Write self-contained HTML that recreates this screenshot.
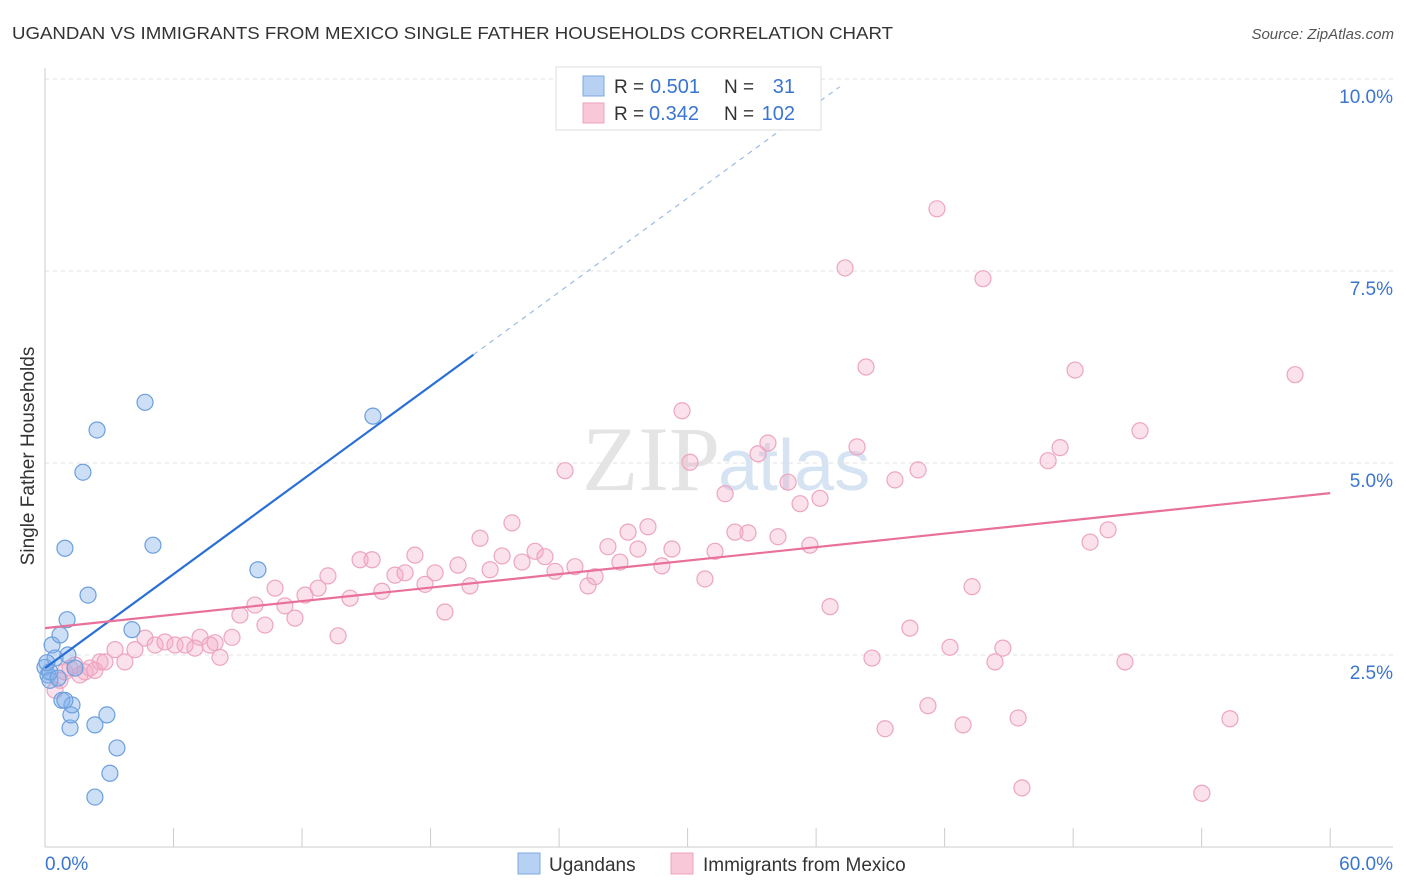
<!DOCTYPE html>
<html><head><meta charset="utf-8"><style>
body{margin:0;background:#fff;font-family:"Liberation Sans",sans-serif;}
svg{display:block}
</style></head><body>
<svg id="chart" width="1406" height="892" xmlns="http://www.w3.org/2000/svg">
<text x="12" y="39" font-size="17.5" fill="#333" textLength="881" lengthAdjust="spacingAndGlyphs">UGANDAN VS IMMIGRANTS FROM MEXICO SINGLE FATHER HOUSEHOLDS CORRELATION CHART</text>
<text x="1394" y="39" font-size="15" fill="#555" font-style="italic" text-anchor="end">Source: ZipAtlas.com</text>
<text x="720" y="490" font-size="92" fill="#e4e4e4" text-anchor="end" font-family="Liberation Serif,serif">ZIP</text>
<text x="718" y="490" font-size="72" fill="#d6e3f3">atlas</text>
<text transform="translate(34,456) rotate(-90)" font-size="19" fill="#333" text-anchor="middle">Single Father Households</text>
<g id="grid"></g><g id="axes"></g><g id="pink"></g><g id="blue"></g><g id="lines"></g>
<g>
<rect x="556" y="67" width="265" height="63" fill="#fff" stroke="#ddd"/>
<rect x="583" y="76" width="21" height="20" fill="#b7d1f2" stroke="#7fa8e0"/>
<rect x="583" y="103" width="21" height="20" fill="#f8c8d8" stroke="#eda5bf"/>
<text x="614" y="93" font-size="19" fill="#333">R =</text>
<text x="650" y="93" font-size="20" fill="#3a75d0">0.501</text>
<text x="724" y="93" font-size="19" fill="#333">N =</text>
<text x="795" y="93" font-size="20" fill="#3a75d0" text-anchor="end">31</text>
<text x="614" y="120" font-size="19" fill="#333">R =</text>
<text x="649" y="120" font-size="20" fill="#3a75d0">0.342</text>
<text x="724" y="120" font-size="19" fill="#333">N =</text>
<text x="795" y="120" font-size="20" fill="#3a75d0" text-anchor="end">102</text>
</g>
<g>
<rect x="518" y="853" width="22" height="21" fill="#b7d1f2" stroke="#7fa8e0"/>
<text x="549" y="871" font-size="19" fill="#333">Ugandans</text>
<rect x="671" y="853" width="22" height="21" fill="#f8c8d8" stroke="#eda5bf"/>
<text x="703" y="871" font-size="19" fill="#333">Immigrants from Mexico</text>
</g>
</svg>
<script>
const blueX=[0,0.14,0.23,0.33,0.47,0.70,0.79,0.93,1.03,1.07,1.17,1.21,1.26,1.40,1.77,2.01,2.43,2.33,2.33,2.89,3.03,3.36,4.06,4.67,5.04,9.94,15.31,0.23,0.61,0.93,0.09];
const blueY=[2.34,2.24,2.17,2.63,2.46,2.76,1.91,3.89,2.96,2.50,1.55,1.72,1.85,2.33,4.88,3.28,5.43,0.65,1.59,1.72,0.96,1.29,2.83,5.79,3.93,3.61,5.61,2.28,2.20,1.91,2.40];
const pinkX=[0.47,0.70,0.93,1.17,1.40,1.63,1.87,2.10,2.33,2.57,2.80,3.27,3.73,4.20,4.67,5.14,5.60,6.07,6.54,7.00,7.24,7.70,7.94,8.17,8.73,9.10,9.80,10.27,10.74,11.20,11.67,12.14,12.75,13.21,13.68,14.24,14.71,15.27,15.73,16.34,16.81,17.27,17.74,18.21,18.67,19.28,19.84,20.31,20.78,21.34,21.80,22.27,22.88,23.34,23.81,24.28,24.74,25.35,25.68,26.28,26.84,27.22,27.68,28.15,28.80,29.27,29.74,30.11,30.81,31.28,31.75,32.21,32.82,33.29,33.75,34.22,34.69,35.25,35.71,36.18,36.65,37.35,37.91,38.33,38.61,39.22,39.68,40.38,40.76,41.22,41.64,42.25,42.86,43.28,43.79,44.35,44.72,45.43,45.61,46.83,47.39,48.09,48.79,49.63,50.42,51.12,54.01,55.32,58.36];
const pinkY=[2.04,2.17,2.28,2.33,2.37,2.24,2.28,2.33,2.30,2.41,2.41,2.57,2.41,2.57,2.72,2.63,2.67,2.63,2.63,2.59,2.73,2.63,2.66,2.47,2.73,3.02,3.15,2.89,3.37,3.14,2.98,3.28,3.37,3.53,2.75,3.24,3.74,3.74,3.33,3.54,3.57,3.80,3.42,3.57,3.06,3.67,3.40,4.02,3.61,3.79,4.22,3.71,3.85,3.78,3.59,4.90,3.65,3.40,3.52,3.91,3.71,4.10,3.88,4.17,3.66,3.88,5.68,5.01,3.49,3.85,4.60,4.10,4.09,5.12,5.26,4.04,4.75,4.47,3.93,4.54,3.13,7.54,5.21,6.25,2.46,1.54,4.78,2.85,4.91,1.84,8.31,2.60,1.59,3.39,7.40,2.41,2.59,1.68,0.77,5.03,5.20,6.21,3.97,4.13,2.41,5.42,0.70,1.67,6.15];
const yTicks=[2.5,5,7.5,10];
const yTickLabels=["2.5%","5.0%","7.5%","10.0%"];
const xTicks=[0,6,12,18,24,30,36,42,48,54,60];
const xEndLabels=["0.0%","60.0%"];
const blueFit=[2.33,0.204];
const pinkFit=[2.85,0.0293];
const NS="http://www.w3.org/2000/svg";
const xs=v=>45+v*21.42, ys=v=>847-v*76.8;
function mk(p,tag,a){const e=document.createElementNS(NS,tag);for(const k in a)e.setAttribute(k,a[k]);p.appendChild(e);return e;}
const grid=document.getElementById('grid'),axes=document.getElementById('axes');
yTicks.forEach((t,i)=>{
 const l=mk(grid,'line',{x1:45,x2:1393,y1:ys(t),y2:ys(t),stroke:'#e2e2e2','stroke-dasharray':'4,4'});
 
 
 const tx=mk(axes,'text',{x:1393,y:ys(t)+24,'font-size':19,fill:'#3a75d0','text-anchor':'end'});
 tx.textContent=yTickLabels[i];
 
 
});
const al=mk(axes,'line',{x1:45,x2:45,y1:68,y2:847,stroke:'#ccc'});


const bl=mk(axes,'line',{x1:45,x2:1393,y1:847,y2:847,stroke:'#ccc'});


xTicks.forEach(t=>{
 const k=mk(axes,'line',{x1:xs(t),x2:xs(t),y1:828,y2:847,stroke:'#ccc'});
 
 
});
const x0=mk(axes,'text',{x:45,y:870,'font-size':19,fill:'#3a75d0'});x0.textContent=xEndLabels[0];


const x1=mk(axes,'text',{x:1393,y:870,'font-size':19,fill:'#3a75d0','text-anchor':'end'});x1.textContent=xEndLabels[1];


const pg=document.getElementById('pink');
pinkX.forEach((v,i)=>{const c=mk(pg,'circle',{cx:xs(v),cy:ys(pinkY[i]),r:8,fill:'rgba(244,170,198,0.35)',stroke:'#eda5bf','stroke-width':1.2});
 
 });
const bg=document.getElementById('blue');
blueX.forEach((v,i)=>{const c=mk(bg,'circle',{cx:xs(v),cy:ys(blueY[i]),r:8,fill:'rgba(130,175,235,0.4)',stroke:'#6c9fdc','stroke-width':1.2});
 
 });
const lg=document.getElementById('lines');
const b1=mk(lg,'line',{x1:xs(0),y1:ys(blueFit[0]),x2:xs(20),y2:ys(blueFit[0]+blueFit[1]*20),stroke:'#2a6fd6','stroke-width':2.2});


const b2=mk(lg,'line',{x1:xs(20),y1:ys(blueFit[0]+blueFit[1]*20),x2:xs(37.1),y2:ys(blueFit[0]+blueFit[1]*37.1),stroke:'#9bbbe6','stroke-width':1.2,'stroke-dasharray':'5,5'});


const p1=mk(lg,'line',{x1:xs(0),y1:ys(pinkFit[0]),x2:xs(60),y2:ys(pinkFit[0]+pinkFit[1]*60),stroke:'#e8709a','stroke-width':2.2});


</script>
</body></html>
